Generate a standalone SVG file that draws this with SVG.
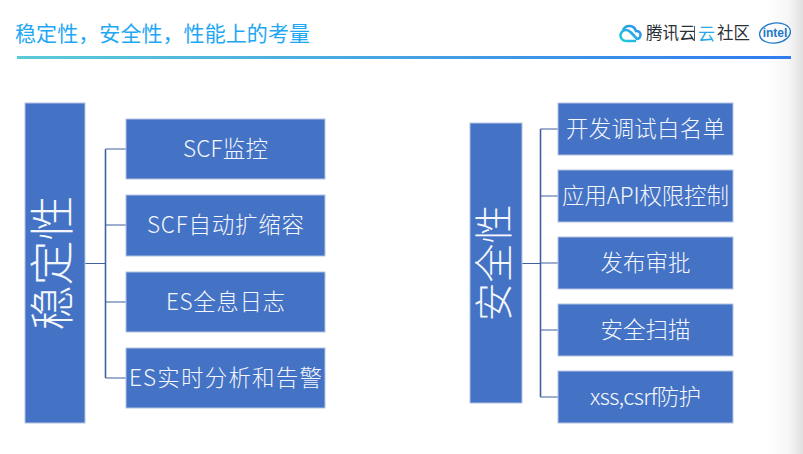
<svg xmlns="http://www.w3.org/2000/svg" width="803" height="454" viewBox="0 0 803 454">
<style>
text{font-family:"Noto Sans CJK SC","Liberation Sans",sans-serif}
.box{fill:#4472c4;stroke:#b4c4e4;stroke-width:1}
.lbl{fill:#f4f7fc;font-size:22.500px;font-weight:300;text-anchor:middle;dominant-baseline:central}
.big{fill:#f4f7fc;font-weight:300;text-anchor:middle;dominant-baseline:central}
.con{fill:none;stroke:#3f5f9f;stroke-width:1.2}
.halo{fill:none;stroke:#c5d0e6;stroke-width:2.4}
.logo{fill:#2b2f36;font-size:16.500px;dominant-baseline:central}
</style>
<defs>
<linearGradient id="rule" x1="0" x2="1" y1="0" y2="0"><stop offset="0" stop-color="#5bcbd6"/><stop offset="1" stop-color="#2f7bf0"/></linearGradient>
<linearGradient id="edge" x1="0" x2="1" y1="0" y2="0"><stop offset="0" stop-color="#fff"/><stop offset="0.6" stop-color="#f7f7f7"/><stop offset="1" stop-color="#e0e0e0"/></linearGradient>
<linearGradient id="cloud" x1="0" x2="1" y1="1" y2="0"><stop offset="0" stop-color="#1fd0d8"/><stop offset="1" stop-color="#2f86f0"/></linearGradient>
</defs>
<rect width="803" height="454" fill="#fff"/>
<rect x="765" y="0" width="38" height="454" fill="url(#edge)"/>
<g id="header">
<text x="15" y="32" font-size="21" fill="#1ea7f5" dominant-baseline="central" textLength="295">稳定性，安全性，性能上的考量</text>
<rect x="17" y="56" width="774" height="3" fill="url(#rule)"/>
</g>
<g id="logo">
<path d="M636 41h-10a5.500 5.500 0 0 1 0-11c2 0 3.500 1 5 2.500l6 6.500a4 4 0 1 0 -1-8a7 7 0 0 0 -13-1" fill="none" stroke="url(#cloud)" stroke-width="2.600"/>
<text class="logo" x="646" y="32">腾讯云</text>
<rect x="694" y="26" width="1" height="15" fill="#555"/>
<text x="698" y="32" font-size="17" fill="#2aa7ea" dominant-baseline="central">云</text>
<text class="logo" x="717" y="32">社区</text>
<ellipse cx="775" cy="33" rx="15.500" ry="10" fill="none" stroke="#1e78c8" stroke-width="1.300" transform="rotate(-8 775 33)"/>
<text x="775" y="33" font-size="12" font-weight="700" fill="#1e78c8" text-anchor="middle" dominant-baseline="central" style="font-family:'Liberation Sans',sans-serif">intel</text>
</g>
<g id="connectors">
<path class="halo" d="M105.500 150V378M540.500 129V397"/>
<path class="con" d="M85 263.500H105.500M105.500 149H126M105.500 225H126M105.500 302H126M105.500 378H126M105.500 149V378"/>
<path class="con" d="M522 263.500H540.500M540.500 129H558M540.500 196H558M540.500 263H558M540.500 330H558M540.500 397H558M540.500 129V397"/>
</g>
<g id="stability">
<rect class="box" x="25" y="103" width="60" height="320"/>
<text class="big" font-size="45" transform="translate(49 263) rotate(-90)">稳定性</text>
</g>
<g id="scf-monitor"><rect class="box" x="126" y="119" width="199" height="60"/><text class="lbl" x="225.500" y="146.500" textLength="85">SCF监控</text></g>
<g id="scf-scale"><rect class="box" x="126" y="195" width="199" height="61"/><text class="lbl" x="225.500" y="222.500" textLength="157">SCF自动扩缩容</text></g>
<g id="es-log"><rect class="box" x="126" y="272" width="199" height="60"/><text class="lbl" x="225.500" y="299.500" textLength="119">ES全息日志</text></g>
<g id="es-alert"><rect class="box" x="126" y="348" width="199" height="60"/><text class="lbl" x="225.500" y="375.500" textLength="193">ES实时分析和告警</text></g>
<g id="security">
<rect class="box" x="470" y="123" width="52" height="280"/>
<text class="big" font-size="39" transform="translate(491 263) rotate(-90)">安全性</text>
</g>
<g id="whitelist"><rect class="box" x="558" y="103" width="175" height="52"/><text class="lbl" x="645.500" y="126.500" textLength="159">开发调试白名单</text></g>
<g id="api-perm"><rect class="box" x="558" y="170" width="175" height="52"/><text class="lbl" x="645.500" y="193.500" textLength="167">应用API权限控制</text></g>
<g id="approval"><rect class="box" x="558" y="237" width="175" height="52"/><text class="lbl" x="645.500" y="260.500" textLength="90">发布审批</text></g>
<g id="scan"><rect class="box" x="558" y="304" width="175" height="52"/><text class="lbl" x="645.500" y="327.500" textLength="90">安全扫描</text></g>
<g id="xss"><rect class="box" x="558" y="371" width="175" height="52"/><text class="lbl" x="645.500" y="394.500" textLength="111">xss,csrf防护</text></g>
</svg>
